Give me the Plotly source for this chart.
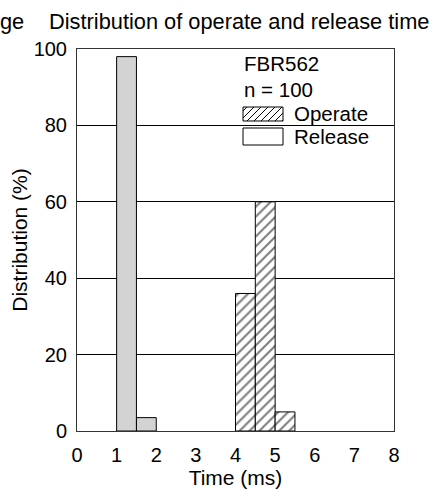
import plotly.graph_objects as go

# Data
release_x = [1.25, 1.75]
release_y = [98, 3.5]
operate_x = [4.25, 4.75, 5.25]
operate_y = [36, 60, 5]
bar_width = 0.5
x_ticks = [0, 1, 2, 3, 4, 5, 6, 7, 8]
y_ticks = [0, 20, 40, 60, 80, 100]

FONT = "Liberation Sans, Arial, sans-serif"
W, H = 433, 491
ML, MR, MT, MB = 77, 39, 49, 60
PW, PH = W - ML - MR, H - MT - MB


def px_to_paper(px, py):
    return (px - ML) / PW, (H - MB - py) / PH


fig = go.Figure()
fig.add_trace(go.Bar(
    x=operate_x, y=operate_y, width=bar_width, name="Operate", showlegend=False,
    marker=dict(color="white", line=dict(color="black", width=1),
                pattern=dict(shape="/", fgcolor="black", bgcolor="white", size=7, solidity=0.3)),
))
fig.add_trace(go.Bar(
    x=release_x, y=release_y, width=bar_width, name="Release", showlegend=False,
    marker=dict(color="#d3d3d3", line=dict(color="black", width=1)),
))

# Legend drawn as shapes + text (keys)
shapes = []
annotations = []


def rect_paper(x0, y0, x1, y1):
    a = px_to_paper(x0, y1)
    b = px_to_paper(x1, y0)
    return a[0], a[1], b[0], b[1]


# Operate key (hatched)
ox0, oy0, ox1, oy1 = 243, 107, 283, 121
p = rect_paper(ox0, oy0, ox1, oy1)
shapes.append(dict(type="rect", xref="paper", yref="paper", x0=p[0], y0=p[1], x1=p[2], y1=p[3],
                   fillcolor="white", line=dict(color="black", width=1), layer="above"))
path = ""
c = ox0 + oy0 + 4
while c < ox1 + oy1:
    xa = max(ox0, c - oy1)
    xb = min(ox1, c - oy0)
    if xb > xa:
        pa = px_to_paper(xa, c - xa)
        pb = px_to_paper(xb, c - xb)
        path += f"M{pa[0]:.5f},{pa[1]:.5f} L{pb[0]:.5f},{pb[1]:.5f} "
    c += 7
shapes.append(dict(type="path", xref="paper", yref="paper", path=path,
                   line=dict(color="black", width=1), layer="above"))

# Release key (plain)
rx0, ry0, rx1, ry1 = 243, 128, 283, 145
p = rect_paper(rx0, ry0, rx1, ry1)
shapes.append(dict(type="rect", xref="paper", yref="paper", x0=p[0], y0=p[1], x1=p[2], y1=p[3],
                   fillcolor="white", line=dict(color="black", width=1), layer="above"))

legend_texts = [("FBR562", 242, 63.5), ("n = 100", 242, 89), ("Operate", 292, 113.5), ("Release", 292, 136.5)]
for t, tx, ty in legend_texts:
    ax, ay = px_to_paper(tx, ty)
    annotations.append(dict(text=t, xref="paper", yref="paper", x=ax, y=ay, xanchor="left",
                            yanchor="middle", showarrow=False, font=dict(size=20.5)))

# Titles
tx, ty = px_to_paper(431, 22)
annotations.append(dict(text="Distribution of operate and release time", xref="paper", yref="paper",
                        x=tx, y=ty, xanchor="right", yanchor="middle", showarrow=False,
                        font=dict(size=21.8)))
gx, gy = px_to_paper(-2, 22)
annotations.append(dict(text="ge", xref="paper", yref="paper", x=gx, y=gy,
                        xanchor="left", yanchor="middle", showarrow=False, font=dict(size=21.8)))

fig.update_layout(
    width=W, height=H,
    margin=dict(l=ML, r=MR, t=MT, b=MB, autoexpand=False),
    paper_bgcolor="white", plot_bgcolor="white",
    font=dict(family=FONT, size=20, color="black"),
    barmode="overlay",
    showlegend=False,
    xaxis=dict(range=[0, 8], tickvals=x_ticks, showgrid=False, zeroline=False,
               showline=True, linecolor="#333", linewidth=1, mirror=True, ticks="",
               ticklabelstandoff=6,
               title=dict(text="Time (ms)", standoff=4, font=dict(size=21)), tickfont=dict(size=20)),
    yaxis=dict(range=[0, 100], tickvals=y_ticks, showgrid=True, gridcolor="black", gridwidth=1,
               zeroline=False, showline=True, linecolor="#333", linewidth=1, mirror=True, ticks="",
               ticklabelstandoff=5,
               title=dict(text="Distribution (%)", standoff=0, font=dict(size=21)), tickfont=dict(size=20)),
    shapes=shapes,
    annotations=annotations,
)

fig.write_html("out.html", config={"displayModeBar": False},
               post_script="document.body.style.margin='0';")
